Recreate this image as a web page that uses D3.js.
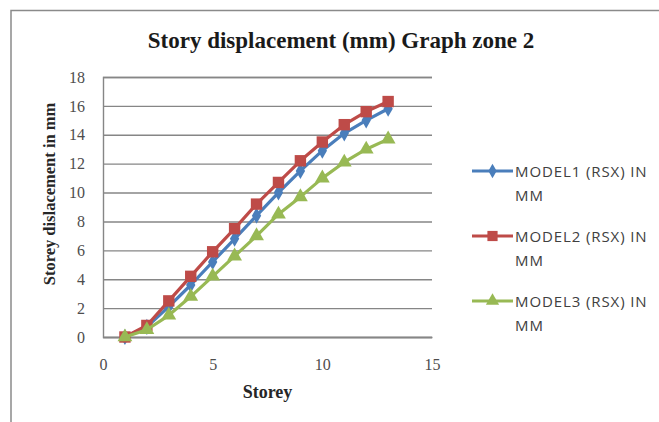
<!DOCTYPE html>
<html>
<head>
<meta charset="utf-8">
<script src="https://cdn.jsdelivr.net/npm/d3@7"></script>
<style>
  body { margin: 0; background: #fff; }
  svg { display: block; }
</style>
</head>
<body>
<svg id="chart" width="659" height="422"></svg>
<script>
// Storey numbers and lateral displacement (mm) per model
const storeys = [1, 2, 3, 4, 5, 6, 7, 8, 9, 10, 11, 12, 13];
const model1 = [0, 0.7, 2.1, 3.6, 5.2, 6.8, 8.4, 10.0, 11.5, 12.9, 14.1, 15.0, 15.8];
const model2 = [0, 0.8, 2.5, 4.2, 5.9, 7.5, 9.2, 10.7, 12.2, 13.5, 14.7, 15.6, 16.3];
const model3 = [0, 0.5, 1.5, 2.8, 4.2, 5.6, 7.0, 8.5, 9.7, 11.0, 12.1, 13.0, 13.7];
const legendLines = [
  ["MODEL1 (RSX) IN", "MM"],
  ["MODEL2 (RSX) IN", "MM"],
  ["MODEL3 (RSX) IN", "MM"]
];
const xTicks = [0, 5, 10, 15];
const yTicks = [0, 2, 4, 6, 8, 10, 12, 14, 16, 18];

const colors = ["#4a7ebb", "#be4b48", "#98b954"];
const markerTypes = [d3.symbolDiamond, d3.symbolSquare, d3.symbolTriangle];
const markerSizes = [75, 130, 95];

const svg = d3.select("#chart");
const serif = "'Liberation Serif', 'Times New Roman', serif";
const sans = "'Open Sans', 'Liberation Sans', sans-serif";

const plot = { left: 103, right: 432, top: 77, bottom: 337 };
const x = d3.scaleLinear().domain([0, 15]).range([plot.left, plot.right]);
const y = d3.scaleLinear().domain([0, 18]).range([plot.bottom, plot.top]);

// outer chart frame
svg.append("rect")
  .attr("x", 11).attr("y", 10.5)
  .attr("width", 700).attr("height", 500)
  .attr("fill", "none").attr("stroke", "#8a8a8a").attr("stroke-width", 1.5);

// title
svg.append("text")
  .attr("x", 341).attr("y", 48)
  .attr("text-anchor", "middle")
  .style("font-family", serif).style("font-weight", "bold").style("font-size", "23px")
  .attr("fill", "#1a1a1a")
  .text("Story displacement (mm) Graph zone 2");

// horizontal gridlines + y axis
const yAxis = d3.axisLeft(y).tickValues(yTicks).tickSize(-(plot.right - plot.left)).tickPadding(18);
const gy = svg.append("g").attr("transform", `translate(${plot.left},0)`).call(yAxis);
gy.select(".domain").attr("stroke", "#868686").attr("stroke-width", 1.4);
gy.selectAll(".tick line").attr("stroke", "#868686").attr("stroke-width", 1.4);
gy.selectAll(".tick text")
  .style("font-family", serif).style("font-size", "16px").attr("fill", "#4d4d4d");

// x axis
const xAxis = d3.axisBottom(x).tickValues(xTicks).tickSize(0).tickPadding(22);
const gx = svg.append("g").attr("transform", `translate(0,${plot.bottom})`).call(xAxis);
gx.select(".domain").attr("stroke", "#868686").attr("stroke-width", 1.4);
gx.selectAll(".tick text")
  .style("font-family", serif).style("font-size", "16px").attr("fill", "#4d4d4d");

// axis titles
svg.append("text")
  .attr("x", (plot.left + plot.right) / 2).attr("y", 398)
  .attr("text-anchor", "middle")
  .style("font-family", serif).style("font-weight", "bold").style("font-size", "18px")
  .attr("fill", "#262626")
  .text("Storey");

svg.append("text")
  .attr("transform", "translate(55,194) rotate(-90)")
  .attr("text-anchor", "middle")
  .style("font-family", serif).style("font-weight", "bold").style("font-size", "16.5px")
  .attr("fill", "#262626")
  .text("Storey dislacement in mm");

// series
const series = [model1, model2, model3];
const line = d3.line().x((d, i) => x(storeys[i])).y(d => y(d));

series.forEach((vals, s) => {
  const g = svg.append("g");
  g.append("path")
    .datum(vals)
    .attr("d", line)
    .attr("fill", "none")
    .attr("stroke", colors[s])
    .attr("stroke-width", 3.2)
    .attr("stroke-linejoin", "round");
  g.selectAll("path.marker")
    .data(vals)
    .join("path")
    .attr("class", "marker")
    .attr("transform", (d, i) => `translate(${x(storeys[i])},${y(d)})`)
    .attr("d", d3.symbol().type(markerTypes[s]).size(markerSizes[s]))
    .attr("fill", colors[s]);
});

// legend
const legend = svg.append("g");
legendLines.forEach((lines, s) => {
  const cy = 171 + s * 65;
  legend.append("line")
    .attr("x1", 472).attr("x2", 513).attr("y1", cy).attr("y2", cy)
    .attr("stroke", colors[s]).attr("stroke-width", 3.2);
  legend.append("path")
    .attr("transform", `translate(492.5,${cy})`)
    .attr("d", d3.symbol().type(markerTypes[s]).size(markerSizes[s] * 0.8))
    .attr("fill", colors[s]);
  lines.forEach((t, k) => {
    legend.append("text")
      .attr("x", 515).attr("y", cy + 6 + k * 24)
      .style("font-family", sans).style("font-size", "15px")
      .style("letter-spacing", "0.9px")
      .attr("fill", "#404040")
      .text(t);
  });
});
</script>
</body>
</html>
